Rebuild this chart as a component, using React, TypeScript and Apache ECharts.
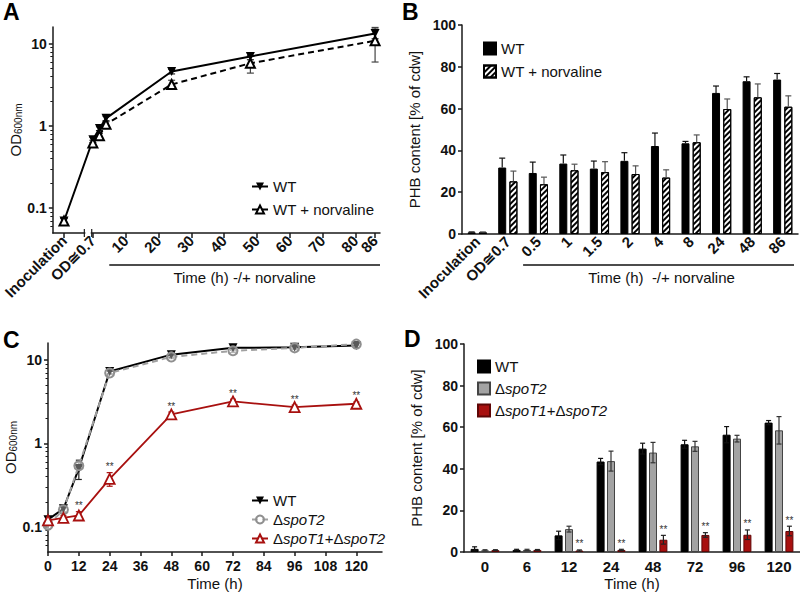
import React, { useEffect, useRef } from 'react';
import * as echarts from 'echarts';

const FONT = '"Liberation Sans", Arial, Helvetica, sans-serif';
const INK = '#111';
const RED = '#a8100f';
const RED_DARK = '#5e0606';
const GREY_BAR = '#a3a3a3';
const GREY_LINE = '#8f8f8f';

// ---------------- Panel A : OD600 (log) vs time, -/+ norvaline
const aInocPos = -8.8; // position of the "Inoculation" point left of the axis break
const aTimes = [0, 2, 4, 24, 48, 86];
const aTickTimes = [10, 20, 30, 40, 50, 60, 70, 80];
const aLastTick = 86;
const aWTInoc = 0.07;
const aWTInocSd = 0.005;
const aWT = [0.68, 0.93, 1.24, 4.6, 7.0, 13.3];
const aWTsd = [0.05, 0.05, 0.08, 0.3, 0.6, 1.8];
const aNorInoc = 0.07;
const aNorInocSd = 0.005;
const aNor = [0.62, 0.76, 1.05, 3.2, 5.8, 10.9];
const aNorSd = [0.05, 0.05, 0.08, 0.4, 1.4, 4.9];

// ---------------- Panel B : PHB content, -/+ norvaline
const bCats = ['Inoculation', 'OD≅0.7', '0.5', '1', '1.5', '2', '4', '8', '24', '48', '86'];
const bWT = [0.8, 31.8, 29.2, 33.7, 31.3, 35.0, 42.1, 43.4, 67.5, 73.1, 73.9];
const bWTsd = [0.2, 4.5, 5.2, 4.1, 3.6, 3.9, 6.2, 0.9, 3.3, 2.1, 2.9];
const bNor = [0.8, 25.2, 23.8, 30.5, 29.6, 28.7, 27.0, 43.9, 59.8, 65.4, 60.9];
const bNorSd = [0.2, 4.9, 3.4, 2.9, 5.0, 3.9, 3.7, 3.5, 4.8, 6.4, 5.2];

// ---------------- Panel C : OD600 (log) of spoT mutants
const cTimes = [0, 6, 12, 24, 48, 72, 96, 120];
const cTickTimes = [0, 12, 24, 36, 48, 60, 72, 84, 96, 108, 120];
const cWT = [0.122, 0.165, 0.5, 7.3, 11.6, 14.0, 14.2, 14.9];
const cWTsd = [0.01, 0.015, 0.13, 0.5, 0.8, 0.8, 0.6, 0.8];
const cS2 = [0.105, 0.16, 0.54, 7.0, 10.9, 12.9, 14.0, 15.5];
const cS2sd = [0.01, 0.01, 0.05, 0.3, 0.5, 0.6, 0.5, 0.6];
const cS12 = [0.12, 0.128, 0.137, 0.377, 2.23, 3.19, 2.73, 2.99];
const cS12sd = [0.01, 0.008, 0.015, 0.07, 0.15, 0.2, 0.15, 0.15];
const cS12Sig = [0, 0, 1, 1, 1, 1, 1, 1];

// ---------------- Panel D : PHB content of spoT mutants
const dCats = ['0', '6', '12', '24', '48', '72', '96', '120'];
const dWT = [1.5, 1.0, 8.0, 43.5, 49.7, 51.8, 56.4, 62.2];
const dWTsd = [1.0, 0.3, 2.0, 1.5, 2.6, 1.9, 3.9, 1.0];
const dS2 = [0.8, 1.0, 11.0, 43.7, 47.8, 50.8, 54.5, 58.5];
const dS2sd = [0.3, 0.3, 1.4, 4.8, 4.9, 2.4, 1.6, 6.6];
const dS12 = [0.9, 1.0, 0.7, 1.0, 5.9, 8.2, 8.3, 10.1];
const dS12sd = [0.2, 0.2, 0.3, 0.3, 2.1, 1.1, 2.3, 2.3];
const dS12Sig = [0, 0, 1, 1, 1, 1, 1, 1];

// ---------------- layout
const GA = { left: 48, top: 27, width: 332, height: 206 };
const GB = { left: 462, top: 25, width: 336, height: 209 };
const GC = { left: 48, top: 343, width: 334, height: 210 };
const GD = { left: 464, top: 344, width: 336, height: 208 };
const A_XMIN = -12.2;
const A_XMAX = 87.5;
const LOG_MIN = Math.log10(0.05);
const LOG_MAX = Math.log10(16);
const logMajor = [-1, 0, 1];
const logMinor: number[] = [];
[-2, -1, 0, 1].forEach((d) => {
  [2, 3, 4, 5, 6, 7, 8, 9].forEach((k) => {
    const v = d + Math.log10(k);
    if (v > LOG_MIN && v < LOG_MAX) logMinor.push(v);
  });
});

const lg = (v: number) => Math.log10(v);
const axisLine = { color: '#1a1a1a', width: 1.5 };

const labelMap: Record<string, string> = {
  aWT: 'WT',
  aNor: 'WT + norvaline',
  bWT: 'WT',
  bNor: 'WT + norvaline',
  cWT: 'WT',
  cS2: 'Δ{i|spoT2}',
  cS12: 'Δ{i|spoT1}+Δ{i|spoT2}',
  dWT: 'WT',
  dS2: 'Δ{i|spoT2}',
  dS12: 'Δ{i|spoT1}+Δ{i|spoT2}',
};

type ErrOpts = { offset: number; cap: number; color: string; lowCap: boolean };
const makeErr = (o: ErrOpts) => (_params: any, api: any) => {
  const x = api.value(0);
  const lo = api.value(1);
  const hi = api.value(2);
  const sig = api.value(3);
  const p1 = api.coord([x, lo]);
  const p2 = api.coord([x, hi]);
  const cx = p1[0] + o.offset;
  const st = { stroke: o.color, lineWidth: 1.2 };
  const children: any[] = [
    { type: 'line', shape: { x1: cx, y1: p1[1], x2: cx, y2: p2[1] }, style: st },
    { type: 'line', shape: { x1: cx - o.cap / 2, y1: p2[1], x2: cx + o.cap / 2, y2: p2[1] }, style: st },
  ];
  if (o.lowCap) {
    children.push({ type: 'line', shape: { x1: cx - o.cap / 2, y1: p1[1], x2: cx + o.cap / 2, y2: p1[1] }, style: st });
  }
  if (sig === 1) {
    children.push({
      type: 'text',
      x: cx,
      y: p2[1] - 1,
      style: {
        text: '**',
        fontSize: 10,
        fontFamily: FONT,
        fill: '#333',
        align: 'center',
        verticalAlign: 'bottom',
        textAlign: 'center',
        textVerticalAlign: 'bottom',
      },
    });
  }
  return { type: 'group', children };
};

const logYAxes = (gridIndex: number, nameGap: number, labelSize: number) => [
  {
    type: 'value',
    gridIndex,
    min: LOG_MIN,
    max: LOG_MAX,
    name: 'OD{s|600nm}',
    nameLocation: 'middle',
    nameGap,
    nameRotate: 90,
    nameTextStyle: {
      fontSize: 15,
      fontFamily: FONT,
      color: INK,
      rich: { s: { fontSize: 10, fontFamily: FONT, color: INK, padding: [6, 0, 0, 0] } },
    },
    axisLine: { show: true, onZero: false, lineStyle: axisLine },
    axisTick: { show: true, customValues: logMajor, length: 4, lineStyle: axisLine },
    axisLabel: {
      customValues: logMajor,
      formatter: (v: number) => String(+Math.pow(10, v).toPrecision(3)),
      fontWeight: 'bold',
      fontSize: labelSize,
      fontFamily: FONT,
      color: INK,
      margin: 6,
    },
    splitLine: { show: false },
  },
  {
    type: 'value',
    gridIndex,
    position: 'left',
    min: LOG_MIN,
    max: LOG_MAX,
    axisLine: { show: false, onZero: false },
    axisTick: { show: true, customValues: logMinor, length: 2.5, lineStyle: { color: '#1a1a1a', width: 1 } },
    axisLabel: { show: false },
    splitLine: { show: false },
  },
];

const buildOption = (): any => {
  const aTickVals = [aInocPos, 0, ...aTickTimes, aLastTick];
  const aLabelVals = [aInocPos, 0, ...aTickTimes];
  const xLabelA = (v: number) => {
    if (Math.abs(v - aInocPos) < 0.01) return 'Inoculation';
    if (Math.abs(v) < 0.01) return 'OD≅0.7';
    return String(v);
  };
  const aLabelStyle = {
    rotate: 45,
    fontWeight: 'bold',
    fontSize: 15,
    fontFamily: FONT,
    color: INK,
    margin: 5,
  };

  const aWTData: any[] = [[aInocPos, lg(aWTInoc)], ...aTimes.map((t, i) => [t, lg(aWT[i])])];
  const aNorData: any[] = [[aInocPos, lg(aNorInoc)], [aInocPos / 2, '-'], ...aTimes.map((t, i) => [t, lg(aNor[i])])];
  const aWTErr = [[aInocPos, lg(aWTInoc - aWTInocSd), lg(aWTInoc + aWTInocSd), 0], ...aTimes.map((t, i) => [t, lg(aWT[i] - aWTsd[i]), lg(aWT[i] + aWTsd[i]), 0])];
  const aNorErr = [[aInocPos, lg(aNorInoc - aNorInocSd), lg(aNorInoc + aNorInocSd), 0], ...aTimes.map((t, i) => [t, lg(aNor[i] - aNorSd[i]), lg(aNor[i] + aNorSd[i]), 0])];

  const cLine = (vals: number[]) => cTimes.map((t, i) => [t, lg(vals[i])]);
  const cErr = (vals: number[], sd: number[], sig?: number[]) =>
    cTimes.map((t, i) => [t, lg(vals[i] - sd[i]), lg(vals[i] + sd[i]), sig ? sig[i] : 0]);

  const bErr = (vals: number[], sd: number[]) => vals.map((v, i) => [i, v, v + sd[i], 0]);
  const dErr = (vals: number[], sd: number[], sig?: number[]) =>
    vals.map((v, i) => [i, Math.max(0, v - sd[i]), v + sd[i], sig ? sig[i] : 0]);

  const legendText = (sz: number) => ({
    fontSize: sz,
    fontFamily: FONT,
    color: INK,
    rich: { i: { fontSize: sz, fontFamily: FONT, fontStyle: 'italic', color: INK } },
  });
  const fmt = (n: string) => labelMap[n] ?? n;

  const hatch = {
    symbol: 'rect',
    symbolSize: 1,
    dashArrayX: [1, 0],
    dashArrayY: [1.5, 1.6],
    rotation: -Math.PI / 4,
    color: '#000',
    backgroundColor: '#fff',
  };

  return {
    animation: false,
    backgroundColor: '#fff',
    textStyle: { fontFamily: FONT },
    grid: [
      { ...GA, containLabel: false },
      { ...GB, containLabel: false },
      { ...GC, containLabel: false },
      { ...GD, containLabel: false },
    ],
    legend: [
      {
        data: ['aWT', 'aNor'],
        orient: 'vertical',
        left: 246,
        top: 174,
        itemWidth: 16,
        itemHeight: 10,
        itemGap: 8,
        formatter: fmt,
        textStyle: legendText(15),
        selectedMode: false,
      },
      {
        data: ['bWT', 'bNor'],
        orient: 'vertical',
        left: 478,
        top: 36,
        icon: 'rect',
        itemWidth: 12,
        itemHeight: 12,
        itemGap: 8,
        formatter: fmt,
        textStyle: legendText(15),
        selectedMode: false,
      },
      {
        data: ['cWT', 'cS2', 'cS12'],
        orient: 'vertical',
        left: 246,
        top: 488,
        itemWidth: 16,
        itemHeight: 10,
        itemGap: 4,
        formatter: fmt,
        textStyle: legendText(15),
        selectedMode: false,
      },
      {
        data: ['dWT', 'dS2', 'dS12'],
        orient: 'vertical',
        left: 472,
        top: 354,
        icon: 'rect',
        itemWidth: 12,
        itemHeight: 12,
        itemGap: 7,
        formatter: fmt,
        textStyle: legendText(15),
        selectedMode: false,
      },
    ],
    xAxis: [
      {
        type: 'value',
        gridIndex: 0,
        min: A_XMIN,
        max: A_XMAX,
        axisLine: { onZero: false, lineStyle: axisLine },
        axisTick: { show: true, customValues: aTickVals, length: 5, lineStyle: axisLine },
        axisLabel: { ...aLabelStyle, customValues: aLabelVals, formatter: xLabelA, showMinLabel: true, showMaxLabel: true },
        splitLine: { show: false },
      },
      {
        type: 'category',
        gridIndex: 1,
        data: bCats,
        axisLine: { onZero: false, lineStyle: axisLine },
        axisTick: { alignWithLabel: true, length: 4, lineStyle: axisLine },
        axisLabel: { interval: 0, rotate: 45, fontWeight: 'bold', fontSize: 15, fontFamily: FONT, color: INK, margin: 5 },
      },
      {
        type: 'value',
        gridIndex: 2,
        min: 0,
        max: 130,
        name: 'Time (h)',
        nameLocation: 'middle',
        nameGap: 24,
        nameTextStyle: { fontSize: 15, fontFamily: FONT, color: INK },
        axisLine: { onZero: false, lineStyle: axisLine },
        axisTick: { show: true, customValues: cTickTimes, length: 4, lineStyle: axisLine },
        axisLabel: { customValues: cTickTimes, showMinLabel: true, showMaxLabel: true, fontWeight: 'bold', fontSize: 14, fontFamily: FONT, color: INK, margin: 7 },
        splitLine: { show: false },
      },
      {
        type: 'category',
        gridIndex: 3,
        data: dCats,
        name: 'Time (h)',
        nameLocation: 'middle',
        nameGap: 24,
        nameTextStyle: { fontSize: 15, fontFamily: FONT, color: INK },
        axisLine: { onZero: false, lineStyle: axisLine },
        axisTick: { alignWithLabel: true, length: 4, lineStyle: axisLine },
        axisLabel: { interval: 0, fontWeight: 'bold', fontSize: 15, fontFamily: FONT, color: INK, margin: 7 },
      },
      // overlay axis carrying only the last ("86") label of panel A
      {
        type: 'value',
        gridIndex: 0,
        position: 'bottom',
        min: A_XMIN,
        max: A_XMAX,
        axisLine: { show: false, onZero: false },
        axisTick: { show: false },
        axisLabel: { ...aLabelStyle, customValues: [aLastTick], formatter: (v: number) => String(v), showMinLabel: true, showMaxLabel: true },
        splitLine: { show: false },
      },
    ],
    yAxis: [
      ...logYAxes(0, 27, 14),
      {
        type: 'value',
        gridIndex: 1,
        min: 0,
        max: 100,
        interval: 20,
        name: 'PHB content [% of cdw]',
        nameLocation: 'middle',
        nameGap: 40,
        nameRotate: 90,
        nameTextStyle: { fontSize: 15, fontFamily: FONT, color: INK },
        axisLine: { show: true, onZero: false, lineStyle: axisLine },
        axisTick: { show: true, length: 4, lineStyle: axisLine },
        axisLabel: { fontWeight: 'bold', fontSize: 14, fontFamily: FONT, color: INK, margin: 6 },
        splitLine: { show: false },
      },
      ...logYAxes(2, 27, 14),
      {
        type: 'value',
        gridIndex: 3,
        min: 0,
        max: 100,
        interval: 20,
        name: 'PHB content [% of cdw]',
        nameLocation: 'middle',
        nameGap: 40,
        nameRotate: 90,
        nameTextStyle: { fontSize: 15, fontFamily: FONT, color: INK },
        axisLine: { show: true, onZero: false, lineStyle: axisLine },
        axisTick: { show: true, length: 4, lineStyle: axisLine },
        axisLabel: { fontWeight: 'bold', fontSize: 14, fontFamily: FONT, color: INK, margin: 6 },
        splitLine: { show: false },
      },
    ],
    series: [
      // ---- A
      { type: 'custom', name: 'aWTerr', xAxisIndex: 0, yAxisIndex: 0, z: 1, silent: true, renderItem: makeErr({ offset: 0, cap: 7, color: '#222', lowCap: true }), encode: { x: 0, y: [1, 2] }, data: aWTErr },
      { type: 'custom', name: 'aNorErr', xAxisIndex: 0, yAxisIndex: 0, z: 1, silent: true, renderItem: makeErr({ offset: 0, cap: 7, color: '#444', lowCap: true }), encode: { x: 0, y: [1, 2] }, data: aNorErr },
      {
        type: 'line',
        name: 'aWT',
        xAxisIndex: 0,
        yAxisIndex: 0,
        data: aWTData,
        symbol: 'triangle',
        symbolRotate: 180,
        symbolSize: 9,
        itemStyle: { color: '#000' },
        lineStyle: { color: '#000', width: 2 },
      },
      {
        type: 'line',
        name: 'aNor',
        xAxisIndex: 0,
        yAxisIndex: 0,
        data: aNorData,
        connectNulls: false,
        symbol: 'emptyTriangle',
        symbolSize: 9,
        itemStyle: { color: '#000', borderWidth: 1.5 },
        lineStyle: { color: '#000', width: 2, type: [6, 4] },
      },
      // ---- B
      {
        type: 'bar',
        name: 'bWT',
        xAxisIndex: 1,
        yAxisIndex: 2,
        data: bWT,
        barWidth: 8,
        barGap: '40%',
        itemStyle: { color: '#000', borderColor: '#000', borderWidth: 1 },
      },
      {
        type: 'bar',
        name: 'bNor',
        xAxisIndex: 1,
        yAxisIndex: 2,
        data: bNor,
        barWidth: 8,
        barGap: '40%',
        itemStyle: { color: '#fff', borderColor: '#000', borderWidth: 1, decal: hatch },
      },
      { type: 'custom', name: 'bWTerr', xAxisIndex: 1, yAxisIndex: 2, z: 3, silent: true, renderItem: makeErr({ offset: -5.6, cap: 6, color: '#111', lowCap: false }), encode: { x: 0, y: [1, 2] }, data: bErr(bWT, bWTsd) },
      { type: 'custom', name: 'bNorErr', xAxisIndex: 1, yAxisIndex: 2, z: 3, silent: true, renderItem: makeErr({ offset: 5.6, cap: 6, color: '#555', lowCap: false }), encode: { x: 0, y: [1, 2] }, data: bErr(bNor, bNorSd) },
      // ---- C
      { type: 'custom', name: 'cWTerr', xAxisIndex: 2, yAxisIndex: 3, z: 1, silent: true, renderItem: makeErr({ offset: 0, cap: 6, color: '#222', lowCap: true }), encode: { x: 0, y: [1, 2] }, data: cErr(cWT, cWTsd) },
      { type: 'custom', name: 'cS2err', xAxisIndex: 2, yAxisIndex: 3, z: 1, silent: true, renderItem: makeErr({ offset: 0, cap: 6, color: GREY_LINE, lowCap: true }), encode: { x: 0, y: [1, 2] }, data: cErr(cS2, cS2sd) },
      { type: 'custom', name: 'cS12err', xAxisIndex: 2, yAxisIndex: 3, z: 1, silent: true, renderItem: makeErr({ offset: 0, cap: 6, color: RED, lowCap: true }), encode: { x: 0, y: [1, 2] }, data: cErr(cS12, cS12sd, cS12Sig) },
      {
        type: 'line',
        name: 'cWT',
        xAxisIndex: 2,
        yAxisIndex: 3,
        data: cLine(cWT),
        symbol: 'triangle',
        symbolRotate: 180,
        symbolSize: 9,
        itemStyle: { color: '#000' },
        lineStyle: { color: '#000', width: 2 },
      },
      {
        type: 'line',
        name: 'cS2',
        xAxisIndex: 2,
        yAxisIndex: 3,
        data: cLine(cS2),
        symbol: 'circle',
        symbolSize: 9,
        itemStyle: { color: 'rgba(255,255,255,0.35)', borderColor: GREY_LINE, borderWidth: 2 },
        lineStyle: { color: '#a0a0a0', width: 2, type: [6, 4] },
      },
      {
        type: 'line',
        name: 'cS12',
        xAxisIndex: 2,
        yAxisIndex: 3,
        data: cLine(cS12),
        symbol: 'triangle',
        symbolSize: 10,
        itemStyle: { color: '#fff', borderColor: RED, borderWidth: 1.8 },
        lineStyle: { color: RED, width: 1.8 },
      },
      // ---- D
      {
        type: 'bar',
        name: 'dWT',
        xAxisIndex: 3,
        yAxisIndex: 5,
        data: dWT,
        barWidth: 8,
        barGap: '30%',
        itemStyle: { color: '#000', borderColor: '#000', borderWidth: 1 },
      },
      {
        type: 'bar',
        name: 'dS2',
        xAxisIndex: 3,
        yAxisIndex: 5,
        data: dS2,
        barWidth: 8,
        barGap: '30%',
        itemStyle: { color: GREY_BAR, borderColor: '#444', borderWidth: 1 },
      },
      {
        type: 'bar',
        name: 'dS12',
        xAxisIndex: 3,
        yAxisIndex: 5,
        data: dS12,
        barWidth: 8,
        barGap: '30%',
        itemStyle: { color: RED, borderColor: RED_DARK, borderWidth: 1 },
      },
      { type: 'custom', name: 'dWTerr', xAxisIndex: 3, yAxisIndex: 5, z: 3, silent: true, renderItem: makeErr({ offset: -10.4, cap: 5, color: '#111', lowCap: true }), encode: { x: 0, y: [1, 2] }, data: dErr(dWT, dWTsd) },
      { type: 'custom', name: 'dS2err', xAxisIndex: 3, yAxisIndex: 5, z: 3, silent: true, renderItem: makeErr({ offset: 0, cap: 5, color: '#333', lowCap: true }), encode: { x: 0, y: [1, 2] }, data: dErr(dS2, dS2sd) },
      { type: 'custom', name: 'dS12err', xAxisIndex: 3, yAxisIndex: 5, z: 3, silent: true, renderItem: makeErr({ offset: 10.4, cap: 5, color: '#222', lowCap: true }), encode: { x: 0, y: [1, 2] }, data: dErr(dS12, dS12sd, dS12Sig) },
    ],
  };
};

export default function App() {
  const ref = useRef<HTMLDivElement>(null);
  useEffect(() => {
    if (!ref.current) return;
    const chart = echarts.init(ref.current, undefined, { renderer: 'svg' });
    chart.setOption(buildOption());

    // decorations computed through the axes' own scales
    const px = (xAxisIndex: number, v: any) => chart.convertToPixel({ xAxisIndex }, v) as unknown as number;
    const aBottom = GA.top + GA.height;
    const brkL = px(0, -2.6);
    const brkR = px(0, -0.35);
    const aBrStart = px(0, 5);
    const aBrEnd = GA.left + GA.width;
    const bC2 = px(1, 2);
    const bC3 = px(1, 3);
    const bBrStart = bC2 - (bC3 - bC2) / 2;
    const bBrEnd = GB.left + GB.width - 4;
    const brY = 265;
    const letter = (t: string, x: number, y: number) => ({
      type: 'text',
      left: x,
      top: y,
      style: { text: t, fontSize: 23, fontWeight: 'bold', fontFamily: FONT, fill: '#000' },
    });
    const centerText = (t: string, x: number, y: number) => ({
      type: 'text',
      x,
      y,
      style: {
        text: t,
        fontSize: 15,
        fontFamily: FONT,
        fill: INK,
        align: 'center',
        verticalAlign: 'middle',
        textAlign: 'center',
        textVerticalAlign: 'middle',
      },
    });
    chart.setOption({
      graphic: [
        letter('A', 3, 0),
        letter('B', 402, 0),
        letter('C', 3, 328),
        letter('D', 404, 327),
        {
          type: 'rect',
          shape: { x: brkL + 1, y: aBottom - 3, width: brkR - brkL - 2, height: 6 },
          style: { fill: '#fff' },
          z: 50,
        },
        { type: 'line', shape: { x1: brkL, y1: aBottom - 4, x2: brkL, y2: aBottom + 4 }, style: { stroke: '#1a1a1a', lineWidth: 1.2 }, z: 51 },
        { type: 'line', shape: { x1: brkR, y1: aBottom - 4, x2: brkR, y2: aBottom + 4 }, style: { stroke: '#1a1a1a', lineWidth: 1.2 }, z: 51 },
        { type: 'line', shape: { x1: aBrStart, y1: brY, x2: aBrEnd, y2: brY }, style: { stroke: '#111', lineWidth: 1.5 } },
        centerText('Time (h) -/+ norvaline', (aBrStart + aBrEnd) / 2, 277),
        { type: 'line', shape: { x1: bBrStart, y1: brY, x2: bBrEnd, y2: brY }, style: { stroke: '#111', lineWidth: 1.5 } },
        centerText('Time (h)  -/+ norvaline', (bBrStart + bBrEnd) / 2 + 3, 277),
      ],
    });
    return () => chart.dispose();
  }, []);
  return (
    <div
      ref={ref}
      style={{ position: 'absolute', left: 0, top: 0, width: 800, height: 592, background: '#fff' }}
    />
  );
}
